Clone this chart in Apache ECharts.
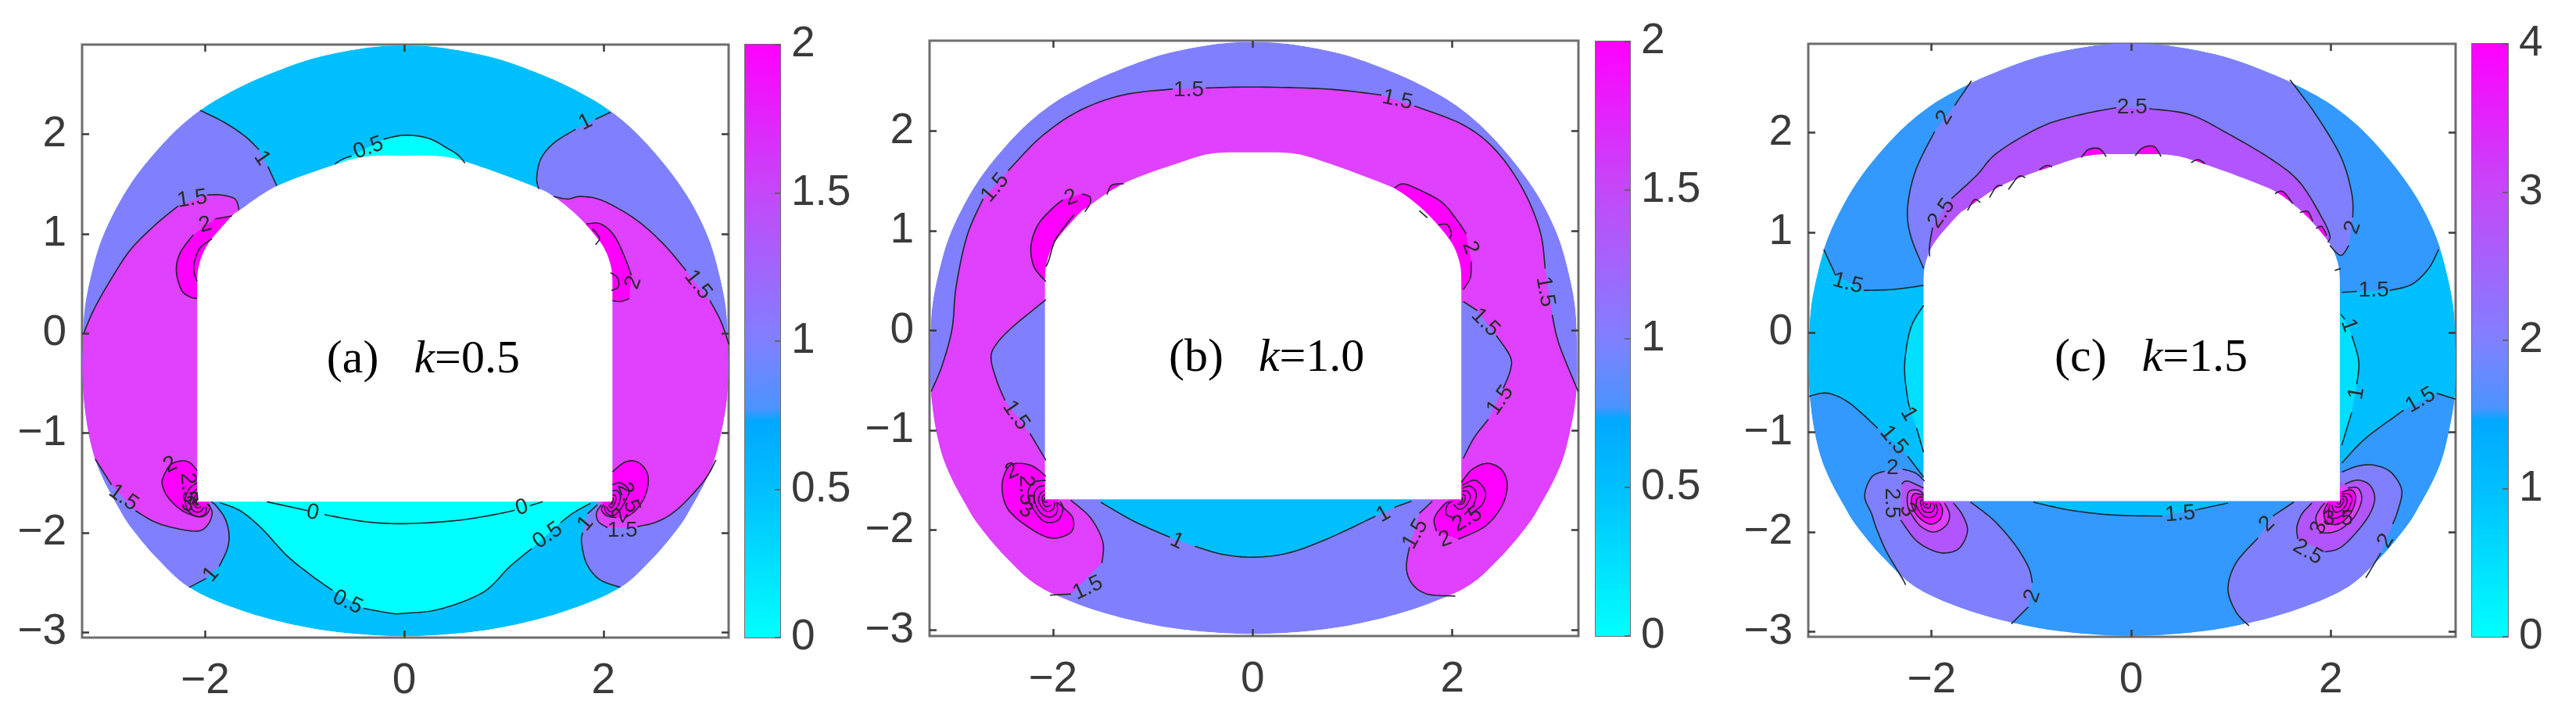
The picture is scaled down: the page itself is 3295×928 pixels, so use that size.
<!DOCTYPE html>
<html><head><meta charset="utf-8">
<script src="https://cdn.jsdelivr.net/npm/echarts@6/dist/echarts.min.js"></script>
<style>html,body{margin:0;padding:0;background:#fff}#c{width:3295px;height:928px;filter:blur(0.7px)}</style>
</head><body><div id="c"></div>
<script>
// ---------- shared geometry (data units) ----------
const rockOutline = [[0,2.89],[-0.395,2.866],[-0.92,2.76],[-1.44,2.57],[-1.81,2.39],[-2.05,2.24],[-2.28,2.05],[-2.49,1.83],[-2.70,1.57],[-2.88,1.28],[-3.04,0.94],[-3.14,0.60],[-3.21,0.235],[-3.23,-0.18],[-3.23,-0.47],[-3.21,-0.73],[-3.17,-1.0],[-3.105,-1.26],[-3.01,-1.49],[-2.88,-1.73],[-2.75,-1.94],[-2.49,-2.25],[-2.16,-2.55],[-1.70,-2.76],[-1.18,-2.91],[-0.66,-3.0],[0,-3.04],[0.66,-3.0],[1.18,-2.91],[1.70,-2.76],[2.17,-2.55],[2.50,-2.25],[2.76,-1.94],[2.89,-1.73],[3.02,-1.49],[3.115,-1.26],[3.18,-1.0],[3.23,-0.73],[3.25,-0.47],[3.25,-0.18],[3.23,0.235],[3.16,0.60],[3.06,0.94],[2.90,1.28],[2.71,1.57],[2.50,1.83],[2.29,2.05],[2.06,2.24],[1.82,2.39],[1.45,2.57],[0.93,2.76],[0.40,2.866]];
const tunnelArch = [[2.09,0.52],[2.08,0.65],[2.03,0.81],[1.94,0.955],[1.74,1.18],[1.5,1.375],[1.29,1.48],[0.72,1.69],[0.40,1.775],[0,1.785],[-0.395,1.775],[-0.71,1.69],[-1.28,1.48],[-1.65,1.24],[-1.73,1.18],[-1.93,0.955],[-2.02,0.81],[-2.07,0.65],[-2.08,0.52]];
const tunnelCorners = [[-2.08,0.52],[-2.08,-1.69],[2.09,-1.69],[2.09,0.52]];
const xTickValues = [-2,0,2];
const yTickValues = [-3,-2,-1,0,1,2];
const colorbarStops = [[0,'#00FFFF'],[0.25,'#00BFFF'],[0.365,'#00A8FF'],[0.385,'#4A94FF'],[0.5,'#8080FF'],[0.75,'#C448F8'],[1,'#FF00FF']];
const band = {cyan:'#00FFFF',aqua:'#00DFFF',sky:'#00BFFF',azure:'#3399FF',peri:'#8080FF',orchid:'#B255FF',violet:'#E040FF',mag:'#FF00FF'};

// ---------- panel (a) contours ----------
const a_1_tl1=[[-2.05,2.24],[-1.81,2.12],[-1.60,1.98],[-1.46,1.845]];
const a_1_tl2=[[-1.37,1.675],[-1.28,1.48]];
const a_1_tr1=[[2.07,2.22],[1.92,2.15]];
const a_1_tr2=[[1.72,2.05],[1.50,1.91],[1.37,1.75],[1.33,1.56],[1.35,1.45]];
const a_1_bl1=[[-1.94,-1.69],[-1.89,-1.73],[-1.80,-1.86],[-1.76,-2.02],[-1.78,-2.17],[-1.86,-2.34]];
const a_1_bl2=[[-1.99,-2.46],[-2.16,-2.55]];
const a_1_br1=[[2.17,-2.55],[1.96,-2.47],[1.83,-2.31],[1.78,-2.10],[1.79,-2.00]];
const a_1_br2=[[1.84,-1.81],[1.94,-1.72]];
const a_15_l1=[[-3.22,0],[-3.12,0.235],[-2.96,0.52],[-2.75,0.84],[-2.49,1.10],[-2.27,1.28]];
const a_15_l2=[[-1.98,1.39],[-1.84,1.39],[-1.70,1.35],[-1.66,1.24]];
const a_15_r1=[[1.50,1.375],[1.64,1.35],[1.78,1.375],[2.0,1.33],[2.33,1.14],[2.61,0.89],[2.83,0.63]];
const a_15_r2=[[3.07,0.33],[3.18,0.12],[3.26,-0.11]];
const a_15_bl1=[[-3.105,-1.26],[-3.01,-1.41],[-2.94,-1.52]];
const a_15_bl2=[[-2.70,-1.78],[-2.49,-1.90],[-2.23,-1.97],[-2.05,-1.98],[-1.96,-1.90],[-1.93,-1.79],[-1.98,-1.71]];
const a_15_br1=[[3.13,-1.27],[3.01,-1.48],[2.75,-1.76],[2.54,-1.89],[2.34,-1.94]];
const a_15_br2=[[2.04,-1.95],[1.95,-1.89],[1.93,-1.80],[1.98,-1.72]];
const a_05_top1=[[-0.70,1.70],[-0.62,1.75],[-0.53,1.78]];
const a_05_top2=[[-0.21,1.95],[0,1.99],[0.24,1.96],[0.43,1.86],[0.54,1.79],[0.61,1.71]];
const a_05_bot1=[[1.87,-1.705],[1.70,-1.80],[1.57,-1.90]];
const a_05_bot2=[[1.28,-2.16],[1.06,-2.34],[0.79,-2.60],[0.35,-2.77],[0,-2.81],[-0.13,-2.81],[-0.41,-2.76]];
const a_05_bot3=[[-0.72,-2.58],[-0.92,-2.44],[-1.18,-2.23],[-1.44,-1.95],[-1.65,-1.78],[-1.85,-1.70]];
const a_0_1=[[-1.38,-1.69],[-0.97,-1.78]];
const a_0_2=[[-0.80,-1.82],[-0.395,-1.89],[0,-1.91],[0.51,-1.88],[0.90,-1.82],[1.11,-1.775]];
const a_0_3=[[1.26,-1.73],[1.39,-1.69]];
const a_2_ul1=[[-1.73,1.18],[-1.90,1.15]];
const a_2_ul2=[[-2.12,0.99],[-2.25,0.81],[-2.29,0.63],[-2.24,0.44],[-2.16,0.37],[-2.08,0.35]];
const a_2_ul_in=[[-1.93,0.95],[-2.05,0.86],[-2.11,0.71],[-2.11,0.61],[-2.08,0.52]];
const a_2_ur1=[[1.83,1.10],[1.97,1.10],[2.11,0.98],[2.22,0.75],[2.28,0.585]];
const a_2_ur2=[[2.26,0.35],[2.17,0.32],[2.09,0.33]];
const a_2_ur_in1=[[1.89,1.05],[1.96,0.96],[1.92,0.89]];
const a_2_ur_in2=[[2.07,0.61],[2.14,0.56],[2.15,0.47],[2.08,0.43]];
const a_2_bl=[[-2.08,-1.38],[-2.15,-1.30],[-2.24,-1.28],[-2.35,-1.32],[-2.42,-1.44],[-2.43,-1.52],[-2.37,-1.65],[-2.23,-1.78],[-2.07,-1.84],[-1.99,-1.82],[-1.95,-1.75],[-1.97,-1.71]];
const a_2_br1=[[2.09,-1.39],[2.22,-1.29],[2.34,-1.29],[2.43,-1.38],[2.45,-1.50],[2.41,-1.65],[2.32,-1.78],[2.22,-1.85]];
const a_2_br2=[[2.13,-1.85],[2.03,-1.83],[1.98,-1.77],[2.0,-1.72]];
const a_arcs_bl=[[[-2.08,-1.50],[-2.16,-1.56],[-2.20,-1.67],[-2.17,-1.78],[-2.08,-1.84],[-2.00,-1.81],[-1.99,-1.74]],[[-2.08,-1.56],[-2.13,-1.61],[-2.15,-1.70],[-2.12,-1.78],[-2.05,-1.79],[-2.01,-1.74]],[[-2.08,-1.61],[-2.11,-1.65],[-2.12,-1.71],[-2.08,-1.75],[-2.04,-1.74]],[[-2.08,-1.65],[-2.10,-1.68],[-2.09,-1.72],[-2.06,-1.72]],[[-2.08,-1.67],[-2.09,-1.70],[-2.07,-1.71]]];
const a_arcs_br=[[[2.09,-1.52],[2.17,-1.50],[2.25,-1.56],[2.25,-1.62],[2.18,-1.75],[2.10,-1.83],[2.03,-1.80],[2.01,-1.73]],[[2.09,-1.58],[2.14,-1.58],[2.17,-1.64],[2.14,-1.74],[2.07,-1.79],[2.03,-1.74]],[[2.09,-1.62],[2.12,-1.63],[2.12,-1.69],[2.08,-1.75],[2.05,-1.72]],[[2.09,-1.65],[2.10,-1.67],[2.07,-1.72]],[[2.09,-1.68],[2.09,-1.71],[2.07,-1.71]]];
const a_labels=[['1',-1.43,1.76,-55],['1',1.82,2.12,27],['0.5',-0.36,1.86,20],['1.5',-2.13,1.35,8],['2',-2.0,1.09,15],['1.5',2.95,0.49,-52],['2',2.30,0.51,70],['1.5',-2.82,-1.65,-35],['2',-2.35,-1.32,25],['2.5',-2.17,-1.55,-85],['3',-2.17,-1.72,-30],['1',-1.94,-2.42,50],['0',-0.92,-1.80,-12],['0',1.18,-1.75,15],['0.5',-0.57,-2.70,-25],['0.5',1.44,-2.03,35],['1',1.82,-1.91,50],['1.5',2.19,-1.98,0],['2',2.17,-1.83,60],['2.5',2.25,-1.65,-70]];

// ---------- panel (b) contours ----------
const b_15_o1=[[-3.22,-0.61],[-3.11,-0.35],[-3.01,0.02],[-2.97,0.44],[-2.86,0.95],[-2.70,1.32]];
const b_15_o2=[[-2.45,1.60],[-2.12,1.94],[-1.74,2.20],[-1.30,2.36],[-0.80,2.42]];
const b_15_o3=[[-0.47,2.43],[0,2.44],[0.74,2.42],[1.29,2.36]];
const b_15_o4=[[1.62,2.25],[2.11,2.06],[2.44,1.80],[2.71,1.41],[2.88,0.99],[2.93,0.62]];
const b_15_o5=[[3.0,0.16],[3.07,-0.14],[3.26,-0.61]];
const b_15_ll1=[[-2.07,0.31],[-2.40,0.04],[-2.57,-0.14],[-2.62,-0.28],[-2.56,-0.51],[-2.48,-0.70]];
const b_15_ll2=[[-2.23,-1.03],[-2.07,-1.30]];
const b_15_rl1=[[2.11,0.29],[2.25,0.20]];
const b_15_rl2=[[2.44,-0.05],[2.58,-0.26],[2.58,-0.40],[2.51,-0.58]];
const b_15_rl3=[[2.36,-0.89],[2.22,-1.07],[2.11,-1.28]];
const b_15_bl1=[[-1.82,-1.70],[-1.62,-1.88],[-1.50,-2.12],[-1.51,-2.33]];
const b_15_bl2=[[-1.82,-2.64],[-2.03,-2.65]];
const b_15_br1=[[1.8,-1.71],[1.67,-1.83]];
const b_15_br2=[[1.57,-2.17],[1.54,-2.38],[1.60,-2.54],[1.75,-2.64],[2.03,-2.66]];
const b_1_1=[[-1.52,-1.72],[-1.19,-1.91],[-0.83,-2.07]];
const b_1_2=[[-0.58,-2.16],[-0.31,-2.24],[0,-2.27],[0.35,-2.23],[0.74,-2.09],[1.23,-1.86]];
const b_1_3=[[1.42,-1.77],[1.59,-1.71]];
const b_2_ul1=[[-2.07,0.49],[-2.19,0.64],[-2.22,0.85],[-2.15,1.06],[-2.01,1.22],[-1.90,1.31]];
const b_2_ul2=[[-1.71,1.37],[-1.63,1.34],[-1.63,1.27],[-1.68,1.19]];
const b_2_cap=[[-1.46,1.36],[-1.42,1.45],[-1.35,1.47],[-1.29,1.47]];
const b_2_ul_in=[[-2.07,0.64],[-2.04,0.71],[-1.98,0.90],[-1.87,1.06],[-1.79,1.16]];
const b_2_ur1=[[1.42,1.43],[1.51,1.47],[1.67,1.41],[1.89,1.29],[2.03,1.13],[2.14,0.97]];
const b_2_ur2=[[2.19,0.69],[2.18,0.53],[2.11,0.41]];
const b_2_ur_in1=[[1.86,1.06],[1.95,1.06],[1.99,0.97],[1.97,0.92]];
const b_2_ur_in2=[[1.67,1.20],[1.75,1.13]];
const b_2_bl=[[-2.07,-1.46],[-2.20,-1.36],[-2.34,-1.33],[-2.45,-1.37],[-2.51,-1.56],[-2.45,-1.79],[-2.23,-1.98],[-2.01,-2.08],[-1.82,-2.02],[-1.80,-1.88],[-1.90,-1.77],[-1.96,-1.72]];
const b_2_br1=[[2.09,-1.52],[2.2,-1.39],[2.35,-1.33],[2.49,-1.39],[2.55,-1.54],[2.5,-1.75],[2.33,-1.96],[2.06,-2.09]];
const b_2_br2=[[1.84,-2.01],[1.82,-1.88],[1.91,-1.75],[1.97,-1.71]];
const b_arcs_bl=[[[-2.07,-1.50],[-2.19,-1.52],[-2.25,-1.62],[-2.22,-1.75],[-2.09,-1.91],[-1.95,-1.90],[-1.90,-1.78],[-1.93,-1.71]],[[-2.08,-1.55],[-2.16,-1.58],[-2.19,-1.68],[-2.13,-1.82],[-2.03,-1.87],[-1.96,-1.82],[-1.96,-1.72]],[[-2.08,-1.60],[-2.13,-1.64],[-2.14,-1.72],[-2.07,-1.81],[-2.00,-1.79],[-1.98,-1.72]],[[-2.08,-1.64],[-2.11,-1.68],[-2.08,-1.76],[-2.02,-1.75]],[[-2.08,-1.67],[-2.09,-1.71],[-2.05,-1.72]]];
const b_arcs_br=[[[2.10,-1.55],[2.23,-1.50],[2.33,-1.61],[2.30,-1.74],[2.19,-1.83]],[[2.03,-1.88],[1.94,-1.84],[1.95,-1.75],[2.0,-1.71]],[[2.10,-1.58],[2.18,-1.56],[2.24,-1.63],[2.21,-1.75],[2.12,-1.84]],[[2.10,-1.61],[2.15,-1.61],[2.18,-1.67],[2.13,-1.76],[2.07,-1.79],[2.01,-1.74]],[[2.10,-1.64],[2.13,-1.66],[2.11,-1.73],[2.05,-1.74]],[[2.10,-1.67],[2.10,-1.71],[2.07,-1.72]]];
const b_labels=[['1.5',-0.64,2.41,0],['1.5',1.45,2.31,-12],['1.5',-2.58,1.43,50],['1.5',2.93,0.39,-80],['1.5',2.33,0.08,-45],['1.5',2.48,-0.70,55],['1.5',-2.37,-0.85,-55],['1.5',-1.65,-2.58,25],['1.5',1.63,-2.04,60],['2',-1.82,1.33,20],['2',2.18,0.83,-70],['2',-2.41,-1.41,25],['2',1.93,-2.09,20],['2.5',-2.27,-1.60,-90],['3',-2.27,-1.80,-30],['2.5',2.15,-1.89,30],['1',-0.76,-2.11,-25],['1',1.31,-1.84,30]];

// ---------- panel (c) contours ----------
const c_15_tl1=[[-3.08,0.83],[-2.96,0.57]];
const c_15_tl2=[[-2.68,0.42],[-2.38,0.43],[-2.08,0.47]];
const c_15_tr1=[[2.11,0.40],[2.26,0.41]];
const c_15_tr2=[[2.59,0.42],[2.81,0.48],[2.98,0.64],[3.08,0.83]];
const c_15_bl1=[[-3.23,-0.64],[-3.04,-0.61],[-2.82,-0.71],[-2.54,-0.96]];
const c_15_bl2=[[-2.24,-1.24],[-2.08,-1.45]];
const c_15_br1=[[2.11,-1.31],[2.35,-1.06],[2.73,-0.78]];
const c_15_br2=[[3.06,-0.61],[3.25,-0.67]];
const c_15_fl1=[[-0.98,-1.70],[-0.62,-1.78],[-0.18,-1.83],[0.31,-1.84]];
const c_15_fl2=[[0.64,-1.78],[0.97,-1.71]];
const c_1_l1=[[-2.08,0.27],[-2.21,0.04],[-2.27,-0.33],[-2.24,-0.66],[-2.21,-0.78]];
const c_1_l2=[[-2.15,-0.96],[-2.08,-1.20]];
const c_1_r1=[[2.10,0.18],[2.14,0.13]];
const c_1_r2=[[2.21,-0.03],[2.28,-0.29],[2.26,-0.52]];
const c_1_r3=[[2.21,-0.80],[2.11,-1.13]];
const c_2_tl1=[[-1.60,2.52],[-1.77,2.27]];
const c_2_tl2=[[-1.97,2.01],[-2.16,1.62],[-2.24,1.25],[-2.21,0.97],[-2.08,0.64]];
const c_2_tr1=[[1.59,2.53],[1.85,2.18],[2.10,1.76],[2.21,1.39],[2.22,1.15]];
const c_2_tr2=[[2.18,0.87],[2.10,0.77],[1.99,0.87]];
const c_25_t1=[[-2.02,0.76],[-2.02,0.87],[-1.99,1.05]];
const c_25_t2=[[-1.80,1.34],[-1.55,1.57],[-1.34,1.80],[-0.90,2.06],[-0.51,2.18],[-0.15,2.25]];
const c_25_t3=[[0.18,2.24],[0.59,2.18],[0.97,1.99],[1.41,1.73],[1.69,1.50],[1.91,1.15],[1.99,0.97],[1.97,0.90]];
const c_3_bumps=[[[-0.50,1.75],[-0.43,1.83],[-0.32,1.84],[-0.25,1.76]],[[0.04,1.77],[0.12,1.85],[0.23,1.86],[0.30,1.76]],[[-0.92,1.63],[-0.85,1.67],[-0.79,1.66]],[[-1.23,1.43],[-1.13,1.56],[-1.06,1.55]],[[-1.42,1.35],[-1.35,1.46],[-1.29,1.47]],[[-1.64,1.22],[-1.57,1.33],[-1.51,1.30]],[[0.60,1.70],[0.67,1.73],[0.74,1.69]],[[1.44,1.39],[1.52,1.41],[1.62,1.29]],[[1.69,1.20],[1.77,1.21],[1.82,1.11]],[[1.85,1.04],[1.91,1.06],[1.96,0.97]],[[2.04,0.62],[2.10,0.64]]];
const c_2_bl1=[[-2.07,-1.49],[-2.16,-1.41],[-2.29,-1.37]];
const c_2_bl2=[[-2.47,-1.39],[-2.60,-1.45],[-2.67,-1.64],[-2.60,-1.82],[-2.55,-1.97],[-2.45,-2.20],[-2.29,-2.47],[-2.26,-2.53]];
const c_2_bl3=[[-1.61,-1.70],[-1.38,-1.88],[-1.17,-2.12],[-1.03,-2.35],[-0.99,-2.51]];
const c_2_bl4=[[-1.03,-2.75],[-1.20,-2.92]];
const c_25_bl1=[[-2.08,-1.56],[-2.24,-1.49],[-2.30,-1.52]];
const c_25_bl2=[[-2.31,-1.88],[-2.16,-2.08],[-2.0,-2.18],[-1.86,-2.21],[-1.72,-2.16],[-1.64,-1.99],[-1.69,-1.83],[-1.78,-1.71]];
const c_3_bl=[[-2.08,-1.62],[-2.14,-1.58],[-2.23,-1.60],[-2.24,-1.73],[-2.19,-1.84],[-2.10,-1.95],[-1.97,-2.0],[-1.85,-1.93],[-1.82,-1.82],[-1.87,-1.71]];
const c_2_br1=[[2.11,-1.40],[2.27,-1.34],[2.43,-1.33],[2.60,-1.40],[2.71,-1.58],[2.67,-1.79],[2.62,-1.92]];
const c_2_br2=[[2.50,-2.21],[2.35,-2.46]];
const c_2_br3=[[1.63,-1.70],[1.42,-1.84]];
const c_2_br4=[[1.27,-2.06],[1.05,-2.31],[0.97,-2.57],[1.05,-2.80],[1.18,-2.94]];
const c_25_br1=[[2.14,-1.52],[2.27,-1.48],[2.39,-1.53],[2.44,-1.66],[2.39,-1.82],[2.25,-2.01],[2.09,-2.16],[1.94,-2.20]];
const c_25_br2=[[1.67,-2.07],[1.66,-1.95],[1.71,-1.82],[1.81,-1.71]];
const c_3_br=[[2.17,-1.56],[2.27,-1.56],[2.31,-1.66],[2.27,-1.79],[2.19,-1.90],[2.06,-1.99],[1.90,-2.0],[1.85,-1.87],[1.89,-1.77],[1.94,-1.71]];
const c_arcs_bl=[[[-2.08,-1.63],[-2.18,-1.62],[-2.20,-1.72],[-2.14,-1.84],[-2.02,-1.92],[-1.92,-1.88],[-1.89,-1.78],[-1.92,-1.71]],[[-2.08,-1.65],[-2.14,-1.66],[-2.15,-1.74],[-2.08,-1.84],[-1.99,-1.85],[-1.94,-1.79],[-1.96,-1.71]],[[-2.08,-1.67],[-2.11,-1.70],[-2.08,-1.79],[-2.00,-1.80],[-1.97,-1.75],[-1.99,-1.71]],[[-2.08,-1.69],[-2.08,-1.74],[-2.02,-1.76],[-2.01,-1.71]],[[-2.07,-1.71],[-2.05,-1.73],[-2.04,-1.71]]];
const c_arcs_br=[[[2.11,-1.60],[2.21,-1.58],[2.25,-1.66],[2.20,-1.81],[2.08,-1.92],[1.96,-1.90],[1.93,-1.80],[1.97,-1.71]],[[2.11,-1.62],[2.18,-1.62],[2.21,-1.68],[2.16,-1.79],[2.06,-1.86],[1.98,-1.84],[1.99,-1.72]],[[2.11,-1.64],[2.15,-1.65],[2.16,-1.71],[2.11,-1.78],[2.04,-1.80],[2.01,-1.73]],[[2.11,-1.66],[2.13,-1.69],[2.09,-1.75],[2.04,-1.74]],[[2.10,-1.68],[2.09,-1.72],[2.06,-1.71]]];
const c_labels=[['2',-1.87,2.15,60],['2',2.22,1.05,70],['2',-2.39,-1.36,0],['2',-0.99,-2.64,70],['2',1.36,-1.92,45],['2',2.55,-2.09,60],['2.5',0.01,2.25,0],['2.5',-1.90,1.19,55],['2.5',-2.40,-1.71,-90],['2.5',1.77,-2.20,-30],['1.5',-2.84,0.49,-15],['1.5',2.43,0.42,0],['1.5',-2.38,-1.08,-50],['1.5',2.90,-0.68,30],['1.5',0.49,-1.82,5],['1',2.18,0.07,-70],['1',2.26,-0.61,80],['1',-2.23,-0.82,-60],['3',1.88,-1.96,70],['3',-2.24,-1.78,-60],['3.5',2.07,-1.87,0]];

// ---------- helpers ----------
const rev=a=>[...a].reverse();
const L=(...pts)=>({line:pts});
function curve(p,closed){
  const n=p.length,o=[];
  if(n<3&&!closed) return p.slice();
  const at=i=>closed?p[(i+n)%n]:p[Math.max(0,Math.min(n-1,i))];
  const segs=closed?n:n-1;
  for(let i=0;i<segs;i++){
    const a=at(i-1),b=at(i),c=at(i+1),d=at(i+2);
    for(let k=0;k<10;k++){
      const t=k/10,t2=t*t,t3=t2*t;
      o.push([0,1].map(j=>0.5*(2*b[j]+(c[j]-a[j])*t+(2*a[j]-5*b[j]+4*c[j]-d[j])*t2+(3*b[j]-a[j]-3*c[j]+d[j])*t3)));
    }
  }
  if(!closed)o.push(p[n-1]);
  return o;
}
const trace=parts=>parts.flatMap(q=>q.line?q.line:curve(q));

// ---------- fill regions, painted in order ----------
const regionsA=[
 [band.cyan,[a_05_top1,a_05_top2,L([0.5,1.5],[-0.6,1.5])]],
 [band.cyan,[a_05_bot1,a_05_bot2,a_05_bot3,L([-1.85,-1.5],[1.87,-1.5])]],
 [band.peri,[a_1_tl1,a_1_tl2,L([-1.28,1.0],[-1.6,-1.3]),a_1_bl1,a_1_bl2,L([-2.3,-3.3],[-3.6,-3.3],[-3.6,2.6],[-2.3,2.6])]],
 [band.peri,[a_1_tr1,a_1_tr2,L([1.3,1.0],[1.6,-1.3]),rev(a_1_br2),rev(a_1_br1),L([2.3,-3.3],[3.6,-3.3],[3.6,2.6],[2.3,2.6])]],
 [band.violet,[a_15_l1,a_15_l2,L([-1.5,1.0],[-1.6,-1.3]),rev(a_15_bl2),rev(a_15_bl1),L([-3.6,-1.4],[-3.6,0])]],
 [band.violet,[a_15_r1,a_15_r2,L([3.6,-0.2],[3.6,-1.2]),a_15_br1,a_15_br2,L([1.6,-1.3],[1.4,1.0])]],
 [band.mag,[a_2_ul1,a_2_ul2,L([-1.9,0.3],[-1.6,1.0])]],
 [band.mag,[a_2_ur1,a_2_ur2,L([1.8,0.3],[1.7,0.9])]],
 [band.mag,[a_2_bl,L([-1.8,-1.5])]],
 [band.mag,[a_2_br1,a_2_br2,L([1.9,-1.5])]]
];
const linesA=[a_1_tl1,a_1_tl2,a_1_tr1,a_1_tr2,a_1_bl1,a_1_bl2,a_1_br1,a_1_br2,a_15_l1,a_15_l2,a_15_r1,a_15_r2,a_15_bl1,a_15_bl2,a_15_br1,a_15_br2,a_05_top1,a_05_top2,a_05_bot1,a_05_bot2,a_05_bot3,a_0_1,a_0_2,a_0_3,a_2_ul1,a_2_ul2,a_2_ul_in,a_2_ur1,a_2_ur2,a_2_ur_in1,a_2_ur_in2,a_2_bl,a_2_br1,a_2_br2,...a_arcs_bl,...a_arcs_br];

const regionsB=[
 [band.violet,[b_15_o1,b_15_o2,b_15_o3,b_15_o4,b_15_o5,L([3.6,-0.61],[3.6,-3.3],[2.1,-3.3]),rev(b_15_br2),rev(b_15_br1),L([0,-1.0]),b_15_bl1,b_15_bl2,L([-2.1,-3.3],[-3.6,-3.3],[-3.6,-0.61])]],
 [band.peri,[b_15_ll1,b_15_ll2,L([-1.8,-1.0],[-1.8,0])]],
 [band.peri,[b_15_rl1,b_15_rl2,b_15_rl3,L([1.8,-1.0],[1.8,0])]],
 [band.sky,[b_1_1,b_1_2,b_1_3,L([1.5,-1.4],[-1.5,-1.4])]],
 [band.mag,[b_2_ul1,b_2_ul2,L([-1.5,1.0],[-1.8,0.4])]],
 [band.mag,[b_2_cap,L([-1.2,1.2],[-1.4,1.2])]],
 [band.mag,[b_2_ur1,b_2_ur2,L([1.8,0.4],[1.3,1.2])]],
 [band.mag,[b_2_bl,L([-1.8,-1.5])]],
 [band.mag,[b_2_br1,b_2_br2,L([1.9,-1.5])]]
];
const linesB=[b_15_o1,b_15_o2,b_15_o3,b_15_o4,b_15_o5,b_15_ll1,b_15_ll2,b_15_rl1,b_15_rl2,b_15_rl3,b_15_bl1,b_15_bl2,b_15_br1,b_15_br2,b_1_1,b_1_2,b_1_3,b_2_ul1,b_2_ul2,b_2_cap,b_2_ul_in,b_2_ur1,b_2_ur2,b_2_ur_in1,b_2_ur_in2,b_2_bl,b_2_br1,b_2_br2,...b_arcs_bl,...b_arcs_br];

const regionsC=[
 [band.azure,[c_15_tl1,c_15_tl2,L([0,0.5]),c_15_tr1,c_15_tr2,L([3.6,1.0],[3.6,3.3],[-3.6,3.3],[-3.6,1.0])]],
 [band.azure,[c_15_bl1,c_15_bl2,L([0,-1.2]),c_15_br1,c_15_br2,L([3.6,-0.7],[3.6,-3.4],[-3.6,-3.4],[-3.6,-0.7])]],
 [band.sky,[c_15_fl1,c_15_fl2,L([0.9,-1.4],[-0.9,-1.4])]],
 [band.aqua,[c_1_l1,c_1_l2,L([-1.8,-1.0],[-1.8,0.2])]],
 [band.aqua,[c_1_r1,c_1_r2,c_1_r3,L([1.8,-1.0],[1.8,0.2])]],
 [band.peri,[c_2_tl1,c_2_tl2,L([-1.6,0.6],[1.6,0.6]),rev(c_2_tr2),rev(c_2_tr1),L([1.59,3.3],[-1.6,3.3])]],
 [band.orchid,[c_25_t1,c_25_t2,c_25_t3,L([1.6,0.7],[-1.6,0.7])]],
 ...c_3_bumps.map(b=>[band.mag,[b,L([0,0.3])]]),
 [band.peri,[c_2_bl1,c_2_bl2,L([-2.3,-3.4],[-1.2,-3.4]),rev(c_2_bl4),rev(c_2_bl3),L([-1.6,-1.4])]],
 [band.peri,[c_2_br1,c_2_br2,L([2.3,-3.4],[1.18,-3.4]),rev(c_2_br4),rev(c_2_br3),L([1.6,-1.4])]],
 [band.orchid,[c_25_bl1,c_25_bl2,L([-1.8,-1.4])]],
 [band.orchid,[c_25_br1,c_25_br2,L([1.9,-1.4])]],
 [band.violet,[c_3_bl,L([-1.9,-1.5])]],
 [band.violet,[c_3_br,L([1.9,-1.5])]],
 [band.mag,[c_arcs_bl[0],L([-1.9,-1.5])]],
 [band.mag,[c_arcs_br[0],L([1.9,-1.5])]]
];
const linesC=[c_15_tl1,c_15_tl2,c_15_tr1,c_15_tr2,c_15_bl1,c_15_bl2,c_15_br1,c_15_br2,c_15_fl1,c_15_fl2,c_1_l1,c_1_l2,c_1_r1,c_1_r2,c_1_r3,c_2_tl1,c_2_tl2,c_2_tr1,c_2_tr2,c_25_t1,c_25_t2,c_25_t3,...c_3_bumps,c_2_bl1,c_2_bl2,c_2_bl3,c_2_bl4,c_25_bl1,c_25_bl2,c_3_bl,c_2_br1,c_2_br2,c_2_br3,c_2_br4,c_25_br1,c_25_br2,c_3_br,...c_arcs_bl,...c_arcs_br];

// ---------- layout ----------
const panels=[
 {base:band.sky,regions:regionsA,lines:linesA,labels:a_labels,tag:'(a)',k:'0.5',tagAt:[0.19,-0.265],
  rect:{left:105,top:57,width:827,height:758},xr:[-3.236,3.257],yr:[-3.054,2.9],
  bar:{left:953,top:57,width:45,height:758},barMax:2,barStep:0.5},
 {base:band.peri,regions:regionsB,lines:linesB,labels:b_labels,tag:'(b)',k:'1.0',tagAt:[0.14,-0.28],
  rect:{left:1189,top:52,width:830,height:761},xr:[-3.236,3.263],yr:[-3.06,2.904],
  bar:{left:2041,top:53,width:44,height:760},barMax:2,barStep:0.5},
 {base:band.sky,regions:regionsC,lines:linesC,labels:c_labels,tag:'(c)',k:'1.5',tagAt:[0.2,-0.265],
  rect:{left:2313,top:56,width:828,height:758},xr:[-3.235,3.25],yr:[-3.05,2.89],
  bar:{left:3162,top:56,width:46,height:758},barMax:4,barStep:1}
];

const FRAME='#6e6e6e',INK='#3a3a3a',LINE='#20242c',SANS='"Liberation Sans",Arial,sans-serif',SERIF='"Liberation Serif","Times New Roman",serif';
const grid=[],xAxis=[],yAxis=[],series=[];
const minus=v=>String(v).replace('-','\u2212');

panels.forEach((P,k)=>{
  grid.push({...P.rect,show:true,borderColor:FRAME,borderWidth:3,backgroundColor:'#fff'});
  const tick={show:true,inside:true,length:9,lineStyle:{color:'#3a3a3a',width:2.5}};
  [false,true].forEach(sec=>{
    xAxis.push({type:'value',gridIndex:k,z:20,min:P.xr[0],max:P.xr[1],position:sec?'top':'bottom',splitLine:{show:false},axisLine:{show:false,onZero:false},
      axisTick:{...tick,customValues:xTickValues},
      axisLabel:{show:!sec,customValues:xTickValues,formatter:minus,fontFamily:SANS,fontSize:55,color:INK,margin:28}});
    yAxis.push({type:'value',gridIndex:k,z:20,min:P.yr[0],max:P.yr[1],position:sec?'right':'left',splitLine:{show:false},axisLine:{show:false,onZero:false},
      axisTick:{...tick,customValues:yTickValues},
      axisLabel:{show:!sec,customValues:yTickValues,formatter:minus,fontFamily:SANS,fontSize:55,color:INK,margin:20}});
  });
  const xi=k*2,yi=k*2;
  const clipOf=api=>({type:'polygon',shape:{points:curve(rockOutline,true).map(p=>api.coord(p))}});
  // filled bands
  const fills=[[P.base,[{closed:true}]],...P.regions];
  series.push({type:'custom',coordinateSystem:'cartesian2d',xAxisIndex:xi,yAxisIndex:yi,silent:true,animation:false,clip:false,z:2,
    data:fills.map((_,i)=>[i,0]),
    renderItem:(p,api)=>{
      const r=fills[p.dataIndex];
      const pts=(r[1][0].closed?curve(rockOutline,true):trace(r[1])).map(q=>api.coord(q));
      return {type:'polygon',shape:{points:pts},style:{fill:r[0]},clipPath:clipOf(api)};
    }});
  // tunnel opening
  series.push({type:'custom',coordinateSystem:'cartesian2d',xAxisIndex:xi,yAxisIndex:yi,silent:true,animation:false,clip:false,z:3,
    data:[[0,0]],
    renderItem:(p,api)=>({type:'polygon',shape:{points:[...curve(tunnelArch),...tunnelCorners].map(q=>api.coord(q))},style:{fill:'#fff'}})});
  // contour lines
  series.push({type:'custom',coordinateSystem:'cartesian2d',xAxisIndex:xi,yAxisIndex:yi,silent:true,animation:false,clip:false,z:4,
    data:P.lines.map((_,i)=>[i,0]),
    renderItem:(p,api)=>({type:'polyline',shape:{points:curve(P.lines[p.dataIndex]).map(q=>api.coord(q))},style:{stroke:LINE,lineWidth:1.6,fill:null}})});
  // contour labels
  series.push({type:'custom',coordinateSystem:'cartesian2d',xAxisIndex:xi,yAxisIndex:yi,silent:true,animation:false,clip:false,z:5,
    data:P.labels.map(l=>[l[1],l[2]]),
    renderItem:(p,api)=>{
      const l=P.labels[p.dataIndex],c=api.coord([l[1],l[2]]);
      return {type:'text',x:c[0],y:c[1],rotation:l[3]*Math.PI/180,style:{text:l[0],x:0,y:0,fill:'#2a2a2a',font:'28px '+SANS,textAlign:'center',textVerticalAlign:'middle'}};
    }});
  // panel caption
  series.push({type:'custom',coordinateSystem:'cartesian2d',xAxisIndex:xi,yAxisIndex:yi,silent:true,animation:false,clip:false,z:6,
    data:[P.tagAt],
    renderItem:(p,api)=>{
      const c=api.coord(P.tagAt);
      return {type:'text',x:c[0],y:c[1],style:{x:0,y:0,text:'{n|'+P.tag+'   }{i|k}{n|='+P.k+'}',align:'center',verticalAlign:'middle',
        rich:{n:{fontFamily:SERIF,fontSize:60,color:'#1a1a1a'},i:{fontFamily:SERIF,fontSize:60,fontStyle:'italic',color:'#1a1a1a'}}}};
    }});
});
panels.forEach((P,k)=>{
  const g=grid.length;
  grid.push({...P.bar,show:true,borderColor:FRAME,borderWidth:2,backgroundColor:'#fff'});
  xAxis.push({type:'value',gridIndex:g,min:0,max:1,show:false});
  yAxis.push({type:'value',gridIndex:g,z:20,min:0,max:P.barMax,interval:P.barStep,position:'right',splitLine:{show:false},axisLine:{show:false,onZero:false},
    axisTick:{show:true,inside:true,length:7,lineStyle:{color:'#555',width:1.5}},
    axisLabel:{fontFamily:SANS,fontSize:55,color:INK,margin:14}});
  const ai=xAxis.length-1;
  series.push({type:'custom',coordinateSystem:'cartesian2d',xAxisIndex:ai,yAxisIndex:ai,silent:true,animation:false,clip:false,z:2,
    data:[[0,0]],
    renderItem:(p,api)=>{
      const a=api.coord([0,0]),b=api.coord([1,P.barMax]);
      return {type:'rect',shape:{x:a[0],y:b[1],width:b[0]-a[0],height:a[1]-b[1]},
        style:{fill:{type:'linear',x:0,y:1,x2:0,y2:0,colorStops:colorbarStops.map(s=>({offset:s[0],color:s[1]}))}}};
    }});
});

const chart=echarts.init(document.getElementById('c'),null,{renderer:'canvas'});
chart.setOption({animation:false,backgroundColor:'#fff',grid,xAxis,yAxis,series});
</script></body></html>
